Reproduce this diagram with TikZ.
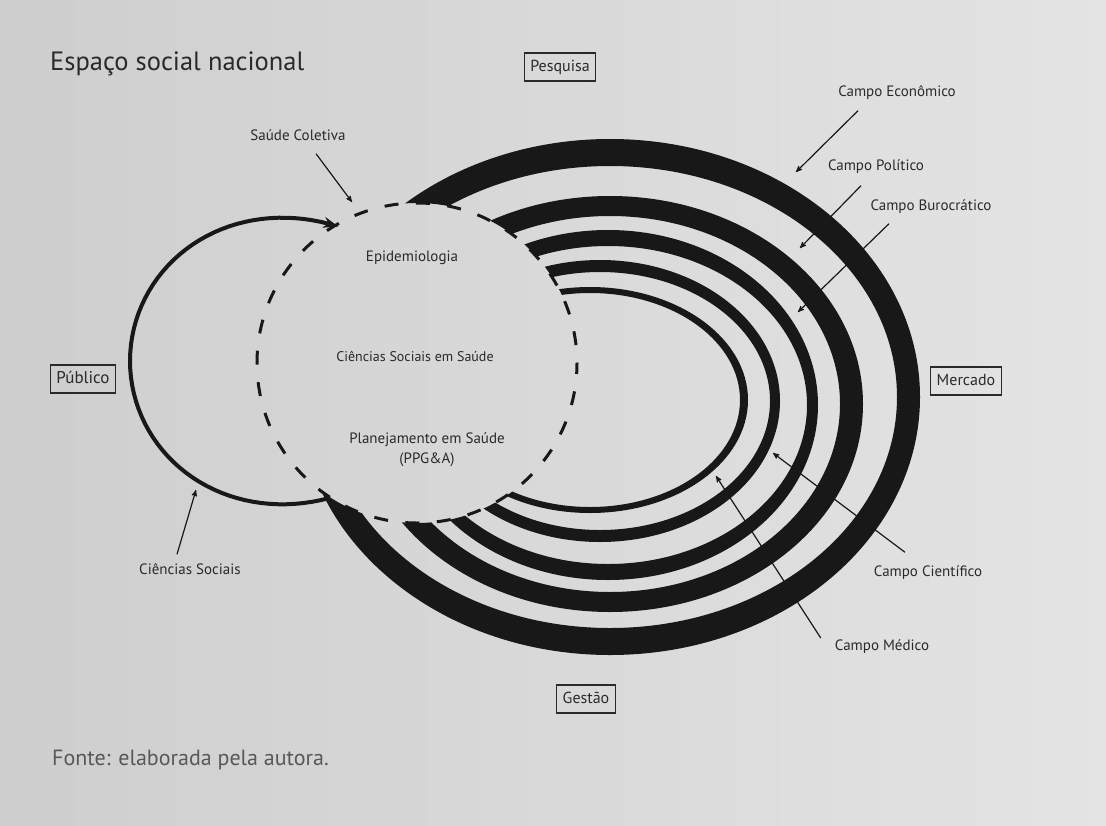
\documentclass[tikz,border=0pt]{standalone}
\usepackage{fontspec}
\setmainfont{PT Sans}
\usetikzlibrary{positioning,arrows,arrows.meta}

\definecolor{paper}{RGB}{228,228,228}
\definecolor{paperdark}{RGB}{206,206,206}
\definecolor{ink}{RGB}{24,24,24}
\definecolor{txt}{RGB}{42,42,42}
\definecolor{fontegray}{RGB}{88,88,88}

\tikzset{
  field/.style={inner sep=1pt, text=txt, text height=10pt, text depth=3pt,
    font=\fontsize{15}{20}\selectfont},
  sector/.style={draw=txt, line width=1.2pt, inner xsep=6pt, inner ysep=6pt,
    text height=12pt, text depth=4pt, text=txt, font=\fontsize{16}{18}\selectfont},
  pointer/.style={->, draw=ink, line width=1.2pt},
  band/.style={fill=ink, even odd rule},
}

\begin{document}
\begin{tikzpicture}[x=1pt,y=-1pt,>=stealth']
  \fill[left color=paperdark, right color=paper] (0,0) rectangle (1106,825);
  \useasboundingbox (0,0) rectangle (1106,825);

  % campos: aneis fora do circulo tracejado
  \coordinate (coletiva) at (417,363);
  \begin{scope}
    \clip (0,0) -- (0,825) -- (1106,825) -- (1106,0) -- cycle
          (coletiva) circle[radius=160];
    \foreach \cx/\cy/\ox/\oy/\ix/\iy in {610/397/310/258/287/231,
        610/404/253/208/230/188, 608/405/210/175/199/159,
        600/401/180/141/170/129, 590/400/158/113/150/107}
      \fill[band] (\cx,\cy) ellipse[x radius=\ox, y radius=\oy]
                  (\cx,\cy) ellipse[x radius=\ix, y radius=\iy];
  \end{scope}
  \draw[ink, line width=3pt, dash pattern=on 14pt off 17.5pt, dash phase=3pt]
    (coletiva) circle[radius=160];
  % ciencias sociais: arco que se abre nas pontas
  \draw[ink, line width=4pt, -{Stealth[length=15pt,width=11pt]}]
    plot[domain=65.8:297.6, samples=70, variable=\t]
      ({268+(138+13*((\t-180)/116)*((\t-180)/116)*((\t-180)/116)*((\t-180)/116))*cos(\t)},
       {361+(138+13*((\t-180)/116)*((\t-180)/116)*((\t-180)/116)*((\t-180)/116))*sin(\t)});

  \node[font=\fontsize{26.5}{30}\selectfont, text=txt, anchor=base west,
    inner sep=0pt] (title) at (50,70) {Espaço social nacional};
  \node[sector] (pesq) at (560,67) {Pesquisa};
  \node[sector, font=\fontsize{17}{19}\selectfont] (publ) at (83,379) {Público};
  \node[sector] (merc) at (966,381) {Mercado};
  \node[sector] (gest) at (586,699) {Gestão};

  \node[field] (epid) at (412,258) {Epidemiologia};
  \node[field, font=\fontsize{14}{20}\selectfont] (csaude) at (415,358) {Ciências Sociais em Saúde};
  \node[field, align=center] (plan) at (427,460) {Planejamento em Saúde\\(PPG\&A)};

  \node[field] (colet) at (298,137) {Saúde Coletiva};
  \node[field] (csoc) at (190,571) {Ciências Sociais};
  \node[field] (econ) at (897,93) {Campo Econômico};
  \node[field] (polit) at (876,167) {Campo Político};
  \node[field] (buroc) at (931,207) {Campo Burocrático};
  \node[field] (cient) at (928,573) {Campo Científico};
  \node[field] (medic) at (882,647) {Campo Médico};

  \coordinate (colet-tip) at (352,202);
  \coordinate (csoc-tip) at (196,490);
  \coordinate (econ-tip) at (796,172);
  \coordinate (polit-tip) at (800,248);
  \coordinate (buroc-tip) at (798,312);
  \coordinate (cient-tip) at (773,453);
  \coordinate (medic-tip) at (716,476);
  \draw[pointer] ([shift={(18,9)}]colet.south) -- (colet-tip);
  \draw[pointer] ([shift={(-13,-9)}]csoc.north) -- (csoc-tip);
  \draw[pointer] ([shift={(-39,10)}]econ.south) -- (econ-tip);
  \draw[pointer] ([shift={(-15,11)}]polit.south) -- (polit-tip);
  \draw[pointer] ([shift={(-42,9)}]buroc.south) -- (buroc-tip);
  \draw[pointer] ([shift={(-23,-13)}]cient.north) -- (cient-tip);
  \draw[pointer] ([shift={(-13,-9)}]medic.west) -- (medic-tip);

  \node[font=\fontsize{22}{26}\selectfont, text=fontegray, anchor=base west,
    inner sep=0pt] (fonte) at (52,765) {Fonte: elaborada pela autora.};
\end{tikzpicture}
\end{document}
